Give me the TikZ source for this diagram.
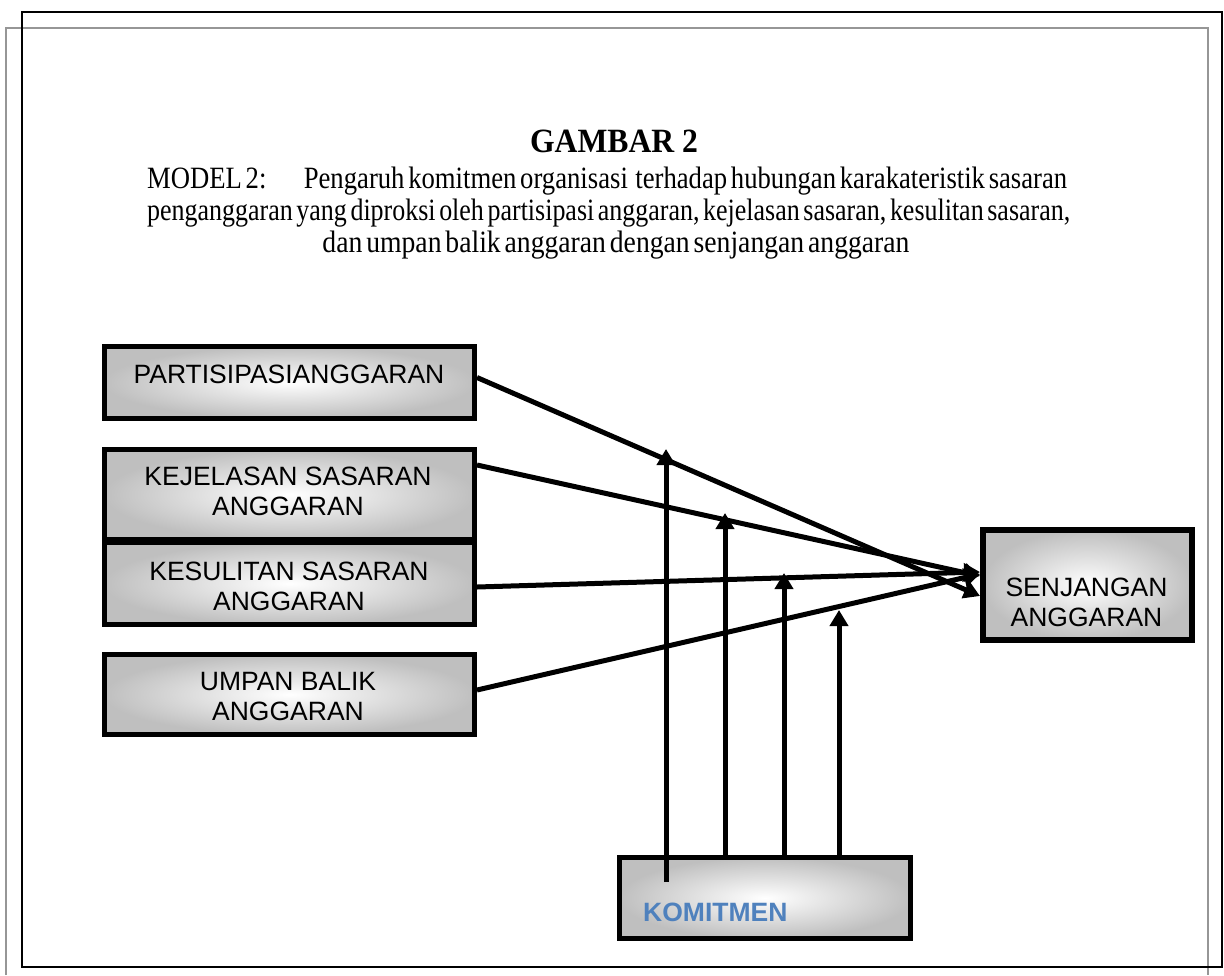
\documentclass[tikz,border=0pt]{standalone}
\usepackage{fontspec}
\usepackage{graphicx}
\setmainfont{Liberation Serif}
\newfontfamily\arialfont{Liberation Sans}
\usetikzlibrary{arrows.meta}
\definecolor{komblue}{RGB}{79,129,189}
\definecolor{framegray}{RGB}{150,150,150}
\begin{document}
\begin{tikzpicture}[x=1pt,y=-1pt,
  box/.style={draw=black, line width=5pt, inner color=white, outer color=gray!50, inner sep=0pt},
  lbl/.style={font=\arialfont\fontsize{26.5}{30}\selectfont, align=center, inner sep=0pt},
  conn/.style={line width=5pt, -{Triangle[length=16pt,width=18pt]}},
  hdr/.style={inner sep=0pt, font=\fontsize{31}{32}\selectfont}
]
\useasboundingbox[fill=white] (0,0) rectangle (1224,975);
% frames
\draw[framegray, line width=1.5pt] (6,975) -- (6,28) -- (1208,28) -- (1208,975);
\draw[black, line width=1.5pt] (22,12) rectangle (1222,967);

% title
\node[inner sep=0pt, anchor=base, font=\bfseries\fontsize{34}{36}\selectfont] (title) at (614,152) {\resizebox{168pt}{\height}{GAMBAR 2}};
\node[hdr, anchor=base west] (l1) at (147,188) {\spaceskip=0.14em\relax\resizebox{920pt}{\height}{MODEL 2:\hspace{1.4em}Pengaruh komitmen organisasi\ \ terhadap hubungan karakateristik sasaran}};
\node[hdr, anchor=base west] (l2) at (147,220) {\spaceskip=0.14em\relax\resizebox{923pt}{\height}{penganggaran yang diproksi oleh partisipasi anggaran, kejelasan sasaran, kesulitan sasaran,}};
\node[hdr, anchor=base] (l3) at (616,252) {\spaceskip=0.14em\relax\resizebox{587pt}{\height}{dan umpan balik anggaran dengan senjangan anggaran}};

% boxes
\node[box, minimum width=370pt, minimum height=72pt] (P) at (289.5,382.5) {};
\node[box, minimum width=370pt, minimum height=90pt] (KEJ) at (289.5,494.5) {};
\node[box, minimum width=370pt, minimum height=82pt] (KES) at (289.5,583.5) {};
\node[box, minimum width=370pt, minimum height=80pt] (UMP) at (289.5,694.5) {};
\node[box, line width=6pt, minimum width=209pt, minimum height=110pt] (SEN) at (1087.5,585) {};
\node[box, minimum width=291pt, minimum height=81pt] (KOM) at (765,898) {};

% labels
\node[lbl, anchor=base] (Pt) at (289,383) {PARTISIPASIANGGARAN};
\node[lbl] (KEJt) at (288,491.5) {KEJELASAN SASARAN\\ANGGARAN};
\node[lbl] (KESt) at (289,586.5) {KESULITAN SASARAN\\ANGGARAN};
\node[lbl] (UMPt) at (288,696.5) {UMPAN BALIK\\ANGGARAN};
\node[lbl] (SENt) at (1086.5,602) {SENJANGAN\\ANGGARAN};
\node[inner sep=0pt, anchor=base west, text=komblue, font=\arialfont\bfseries\fontsize{26.5}{30}\selectfont] (KOMt) at (643,921) {KOMITMEN};

% moderator arrows
\coordinate (v1s) at (666,882);
\coordinate (v1e) at (666,449);
\coordinate (v2e) at (725,513);
\coordinate (v3e) at (784,573);
\coordinate (v4e) at (839,610);
\draw[conn] (v1s) -- (v1e);
\draw[conn] ([xshift=-40pt]KOM.north) -- (v2e);
\draw[conn] ([xshift=19pt]KOM.north) -- (v3e);
\draw[conn] ([xshift=74pt]KOM.north) -- (v4e);

% main arrows
\draw[conn] ([yshift=5pt]P.east) -- ([yshift=-11pt]SEN.west);
\draw[conn] ([yshift=29.5pt]KEJ.east) -- ([yshift=9pt]SEN.west);
\draw[conn] ([yshift=-3.5pt]KES.east) -- ([yshift=13pt]SEN.west);
\draw[conn] ([yshift=4.5pt]UMP.east) -- ([yshift=11pt]SEN.west);
\end{tikzpicture}
\end{document}
